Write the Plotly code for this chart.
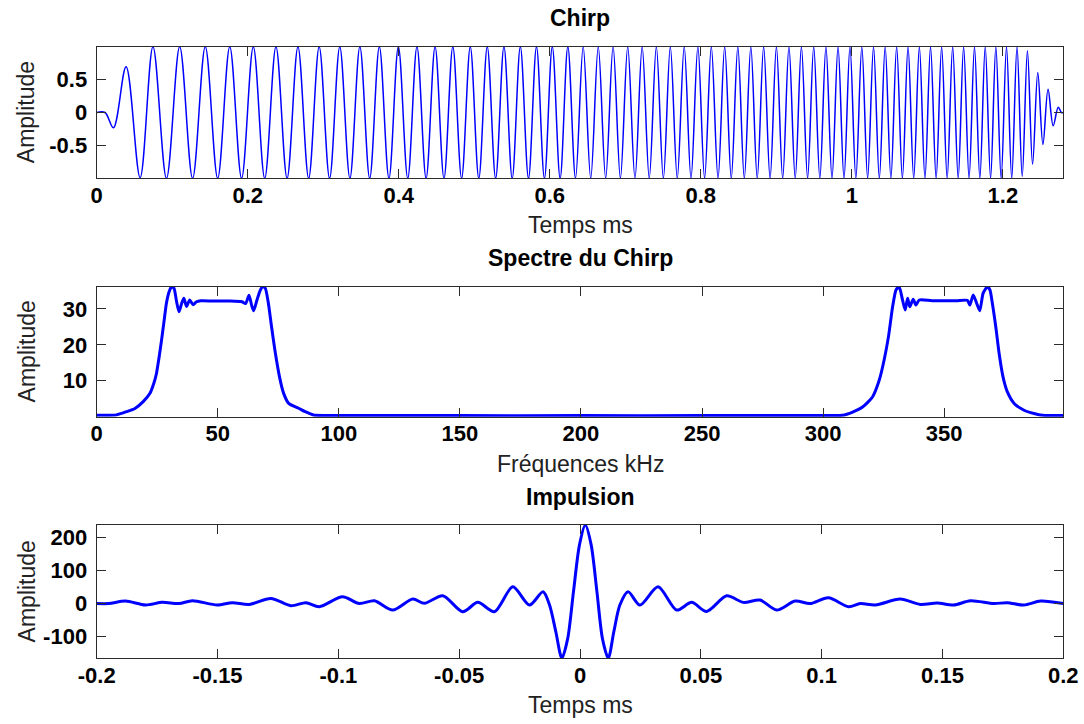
import plotly.graph_objects as go

# ---------------- Chirp (extrema) ----------------
chirp_t = [0.0, 0.011, 0.0221, 0.0389, 0.0575,
           0.0745, 0.0924, 0.1099, 0.1270, 0.1438, 0.1602, 0.1762, 0.1919, 0.2074, 0.2225,
           0.2374, 0.2521, 0.2665, 0.2807, 0.2946, 0.3084, 0.3219, 0.3353, 0.3485, 0.3615,
           0.3743, 0.3870, 0.3995, 0.4119, 0.4241, 0.4362, 0.4481, 0.4599, 0.4716, 0.4832,
           0.4947, 0.5060, 0.5172, 0.5283, 0.5393, 0.5502, 0.5610, 0.5718, 0.5824, 0.5929,
           0.6033, 0.6137, 0.6239, 0.6341, 0.6442, 0.6542, 0.6642, 0.6740, 0.6838, 0.6935,
           0.7032, 0.7128, 0.7223, 0.7317, 0.7411, 0.7504, 0.7596, 0.7688, 0.7780, 0.7870,
           0.7961, 0.8050, 0.8139, 0.8228, 0.8316, 0.8403, 0.8490, 0.8576, 0.8662, 0.8747,
           0.8832, 0.8917, 0.9001, 0.9084, 0.9167, 0.9250, 0.9332, 0.9414, 0.9495, 0.9576,
           0.9657, 0.9737, 0.9817, 0.9896, 0.9975, 1.0053, 1.0132, 1.0209, 1.0287, 1.0364,
           1.0441, 1.0517, 1.0593, 1.0669, 1.0744, 1.0819, 1.0894, 1.0968, 1.1042, 1.1116,
           1.1189, 1.1262, 1.1335, 1.1408, 1.1480, 1.1552, 1.1624, 1.1695, 1.1766, 1.1837,
           1.1907, 1.1977, 1.2048, 1.2117, 1.2187,
           1.2256, 1.2325, 1.2393, 1.2462, 1.2530, 1.2598, 1.2666, 1.2733, 1.2775, 1.28]
chirp_a = [0.0, 0.0, -0.23, 0.69, -0.98,
           0.99, -0.99, 0.99, -0.99, 0.99, -0.99, 0.99, -0.99, 0.99, -0.99,
           0.99, -0.99, 0.99, -0.99, 0.99, -0.99, 0.99, -0.99, 0.99, -0.99,
           0.99, -0.99, 0.99, -0.99, 0.99, -0.99, 0.99, -0.99, 0.99, -0.99,
           0.99, -0.99, 0.99, -0.99, 0.99, -0.99, 0.99, -0.99, 0.99, -0.99,
           0.99, -0.99, 0.99, -0.99, 0.99, -0.99, 0.99, -0.99, 0.99, -0.99,
           0.99, -0.99, 0.99, -0.99, 0.99, -0.99, 0.99, -0.99, 0.99, -0.99,
           0.99, -0.99, 0.99, -0.99, 0.99, -0.99, 0.99, -0.99, 0.99, -0.99,
           0.99, -0.99, 0.99, -0.99, 0.99, -0.99, 0.99, -0.99, 0.99, -0.99,
           0.99, -0.99, 0.99, -0.99, 0.99, -0.99, 0.99, -0.99, 0.99, -0.99,
           0.99, -0.99, 0.99, -0.99, 0.99, -0.99, 0.99, -0.99, 0.99, -0.99,
           0.99, -0.99, 0.99, -0.99, 0.99, -0.99, 0.99, -0.99, 0.99, -0.99,
           0.99, -0.99, 0.99, -0.99, 0.99,
           -0.96, 0.93, -0.78, 0.60, -0.48, 0.35, -0.20, 0.08, 0.0, 0.0]

# ---------------- Spectrum ----------------
spec_f = [0, 5, 8.2, 12.3, 15.8, 19.2, 22.0, 23.6, 24.7, 25.8, 26.8, 27.7, 28.8, 29.9,
          30.9, 31.9, 33.0, 34.0, 35.1, 36.0, 37.1, 38.4, 39.8, 41.2, 43.0, 50.0, 55.0,
          60.0, 61.5, 62.9, 64.0, 64.8, 66.2, 67.4, 68.5, 69.6, 70.9, 72.2, 73.6, 75.5,
          77.2, 79.3, 83.4, 86.1, 89.5, 95, 150, 200, 250, 300,
          308, 312.2, 316.3, 320.4, 323.2, 325.2, 327.0, 328.7, 330.1, 331.4, 332.8, 333.9,
          334.9, 335.8, 337.2, 338.3, 339.7, 345, 355, 359.6, 360.6, 362.0, 363.4, 364.7,
          366.1, 367.9, 368.9, 369.9, 371.3, 372.7, 374.3, 376.1, 378.9, 383.0, 387.1,
          390.6, 395, 399.2]
spec_a = [0.4, 0.4, 0.5, 1.4, 2.3, 4.2, 6.5, 9.3, 12.1, 16.7, 21.4, 26.0, 31.6, 34.8,
          36.2, 35.8, 32.0, 29.2, 31.6, 33.0, 30.7, 32.5, 31.2, 32.0, 32.3, 32.2, 32.2,
          32.0, 31.5, 33.8, 31.0, 29.5, 32.5, 35.0, 36.2, 35.8, 31.6, 25.1, 18.5, 11.1,
          6.5, 3.7, 2.35, 1.4, 0.47, 0.35, 0.3, 0.3, 0.3, 0.35,
          0.4, 1.3, 2.7, 5.5, 10.2, 15.8, 22.3, 30.6, 35.3, 36.2, 32.5, 29.7,
          33.0, 30.6, 32.7, 31.1, 32.5, 32.3, 32.3, 32.4, 31.1, 33.9, 31.6, 29.5,
          34.4, 36.2, 35.3, 31.6, 25.1, 17.6, 11.1, 6.9, 3.7, 1.8, 0.9,
          0.4, 0.35, 0.35]

# ---------------- Impulse ----------------
imp_t = [-0.2, -0.195, -0.1881, -0.1798, -0.1729, -0.166, -0.1604, -0.1501, -0.1439,
         -0.1369, -0.1279, -0.1197, -0.1134, -0.1079, -0.0983, -0.0913, -0.0851, -0.0775,
         -0.0692, -0.0644, -0.0568, -0.0485, -0.0423, -0.0354, -0.0278, -0.0209, -0.0153,
         -0.0126, -0.0100, -0.0075, -0.0051, -0.0027, -0.0002, 0.0022, 0.0046, 0.0070,
         0.0093, 0.0117, 0.0140, 0.0165, 0.0199, 0.0248, 0.0323, 0.0400, 0.0462, 0.0524,
         0.0607, 0.0676, 0.0745, 0.0814, 0.0890, 0.0952, 0.1028, 0.1111, 0.1160, 0.1222,
         0.1325, 0.1408, 0.1478, 0.1546, 0.1616, 0.1712, 0.1768, 0.1837, 0.1906, 0.2]
imp_a = [0, 0, 7.5, -4.5, 3.6, 0, 8.5, -4.5, 2.6,
         -2.5, 15.6, -6.5, 2.6, -9.5, 20.5, 0, 8.5, -19.6,
         13.6, 0.6, 23.5, -24.7, 3.6, -24.7, 50.7, -4.5, 35.6,
         -4.5, -85, -165, -106, 36, 178, 237, 178, 36,
         -106, -165, -85, -4.5, 35.6, -4.5, 50.7, -19.6, 3.6, -23.7,
         23.5, 3.6, 10.6, -19.6, 7.5, 0, 17.6, -9.5, 0, -4.5,
         13.6, -2.5, 1.6, -4.5, 8.5, 0, 2.6, -4.5, 7.5, 0]

# ---------------- Ticks ----------------
x1_ticks = [0, 0.2, 0.4, 0.6, 0.8, 1.0, 1.2]
x1_text = ["0", "0.2", "0.4", "0.6", "0.8", "1", "1.2"]
y1_ticks = [-0.5, 0, 0.5]
y1_text = ["-0.5", "0", "0.5"]
x2_ticks = [0, 50, 100, 150, 200, 250, 300, 350]
x2_text = ["0", "50", "100", "150", "200", "250", "300", "350"]
y2_ticks = [10, 20, 30]
y2_text = ["10", "20", "30"]
x3_ticks = [-0.2, -0.15, -0.1, -0.05, 0, 0.05, 0.1, 0.15, 0.2]
x3_text = ["-0.2", "-0.15", "-0.1", "-0.05", "0", "0.05", "0.1", "0.15", "0.2"]
y3_ticks = [-100, 0, 100, 200]
y3_text = ["-100", "0", "100", "200"]

W, H = 1084, 724
FONT = "Liberation Sans"
BLUE = "#0000ff"

def px_x(p):
    return p / W

def px_y(p):
    return 1 - p / H

fig = go.Figure()
fig.add_trace(go.Scatter(x=chirp_t, y=chirp_a, mode="lines",
                         line=dict(color=BLUE, width=1.5, shape="spline", smoothing=1.0),
                         xaxis="x", yaxis="y", showlegend=False, hoverinfo="skip"))
fig.add_trace(go.Scatter(x=spec_f, y=spec_a, mode="lines",
                         line=dict(color=BLUE, width=3, shape="spline", smoothing=0.6),
                         xaxis="x2", yaxis="y2", showlegend=False, hoverinfo="skip"))
fig.add_trace(go.Scatter(x=imp_t, y=imp_a, mode="lines",
                         line=dict(color=BLUE, width=3, shape="spline", smoothing=0.8),
                         xaxis="x3", yaxis="y3", showlegend=False, hoverinfo="skip"))

axc = dict(showline=True, linecolor="#2b2b2b", linewidth=1.3, mirror="ticks",
           ticks="inside", ticklen=9, tickwidth=1.3, tickcolor="#2b2b2b",
           showgrid=False, zeroline=False, tickmode="array",
           tickfont=dict(family=FONT, size=22, color="black", weight="bold"))
axx = dict(axc, ticklabelstandoff=-3)
axy = dict(axc, ticklabelstandoff=4)

xdom = [px_x(96.7), px_x(1063.3)]
ydoms = [[px_y(178.3), px_y(46.7)], [px_y(416.7), px_y(286.7)], [px_y(658.3), px_y(525.0)]]

fig.update_layout(
    width=W, height=H,
    margin=dict(l=0, r=0, t=0, b=0, autoexpand=False),
    paper_bgcolor="white", plot_bgcolor="white",
    xaxis=dict(axx, domain=xdom, anchor="y", range=[0, 1.28], tickvals=x1_ticks, ticktext=x1_text),
    yaxis=dict(axy, domain=ydoms[0], anchor="x", range=[-0.99, 0.99], tickvals=y1_ticks, ticktext=y1_text),
    xaxis2=dict(axx, domain=xdom, anchor="y2", range=[0, 399.2], tickvals=x2_ticks, ticktext=x2_text),
    yaxis2=dict(axy, domain=ydoms[1], anchor="x2", range=[0, 36.2], tickvals=y2_ticks, ticktext=y2_text),
    xaxis3=dict(axx, domain=xdom, anchor="y3", range=[-0.2, 0.2], tickvals=x3_ticks, ticktext=x3_text),
    yaxis3=dict(axy, domain=ydoms[2], anchor="x3", range=[-165.2, 237.1], tickvals=y3_ticks, ticktext=y3_text),
)

titles = [("Chirp", 18.3), ("Spectre du Chirp", 258.3), ("Impulsion", 496.6)]
xlabels = [("Temps ms", 225.3), ("Fréquences kHz", 464.0), ("Temps ms", 705.3)]
ycenters = [112.5, 351.7, 591.7]
ann = []
for txt, yy in titles:
    ann.append(dict(text=txt, x=px_x(580), y=px_y(yy), xref="paper", yref="paper",
                    xanchor="center", yanchor="middle", showarrow=False,
                    font=dict(family=FONT, size=23, color="black", weight="bold")))
for txt, yy in xlabels:
    ann.append(dict(text=txt, x=px_x(580), y=px_y(yy), xref="paper", yref="paper",
                    xanchor="center", yanchor="middle", showarrow=False,
                    font=dict(family=FONT, size=23, color="#222222")))
for yy in ycenters:
    ann.append(dict(text="Amplitude", x=px_x(26.7), y=px_y(yy), xref="paper", yref="paper",
                    xanchor="center", yanchor="middle", showarrow=False, textangle=-90,
                    font=dict(family=FONT, size=23, color="#222222")))
fig.update_layout(annotations=ann)

fig.write_html("out.html", config={"displayModeBar": False},
               post_script="document.body.style.margin='0';document.body.style.overflow='hidden';")
